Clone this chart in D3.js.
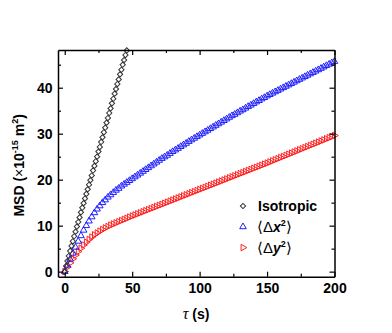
<!DOCTYPE html>
<html>
<head>
<meta charset="utf-8">
<script src="https://cdn.jsdelivr.net/npm/d3@7"></script>
<style>
  body { margin: 0; background: #fff; }
  svg { display: block; font-family: "Liberation Sans", Arial, sans-serif; }
</style>
</head>
<body>
<div id="msd_canvas"></div>
<script>
// lag times (s)
const tauIso = d3.range(0, 47, 1);
const tauAniso = d3.range(0, 201, 2);

// isotropic MSD, 1 s steps
const msdIso = [0, 1.2, 2.3, 3.4, 4.5, 5.6, 6.6, 7.7, 8.7, 9.8, 10.8, 11.8, 12.9, 13.9, 14.9, 15.9,
  16.9, 17.9, 18.9, 19.9, 20.9, 22.0, 23.0, 24.0, 25.0, 26.1, 27.1, 28.2, 29.2, 30.3, 31.3, 32.4,
  33.4, 34.5, 35.5, 36.6, 37.6, 38.7, 39.7, 40.8, 41.8, 42.9, 43.9, 45.0, 46.0, 47.1, 48.1];

// <dx^2>, 2 s steps
const msdX = [0, 1.4, 2.7, 4.0, 5.3, 6.6, 7.8, 9.0, 10.0, 11.0, 11.9, 12.8, 13.6, 14.3, 15.0, 15.6,
  16.2, 16.7, 17.2, 17.7, 18.1, 18.6, 19.0, 19.4, 19.8, 20.2, 20.6, 21.0, 21.4, 21.8, 22.2,
  22.6, 23.0, 23.4, 23.8, 24.2, 24.6, 24.95, 25.3, 25.7, 26.1, 26.45, 26.8, 27.2, 27.55, 27.9,
  28.3, 28.65, 29.0, 29.35, 29.7, 30.05, 30.4, 30.75, 31.1, 31.45, 31.8, 32.15, 32.5, 32.85, 33.2,
  33.55, 33.9, 34.2, 34.55, 34.9, 35.2, 35.55, 35.9, 36.2, 36.55, 36.9, 37.2, 37.55, 37.85, 38.2,
  38.5, 38.8, 39.1, 39.4, 39.7, 40.0, 40.3, 40.6, 40.9, 41.2, 41.5, 41.8, 42.1, 42.4, 42.7,
  43.0, 43.3, 43.6, 43.9, 44.2, 44.5, 44.8, 45.1, 45.4, 45.7];

// <dy^2>, 2 s steps
const msdY = [0, 1.0, 1.9, 2.8, 3.6, 4.4, 5.1, 5.8, 6.4, 7.0, 7.5, 8.0, 8.4, 8.8, 9.15, 9.5,
  9.8, 10.1, 10.35, 10.6, 10.85, 11.1, 11.35, 11.6, 11.85, 12.1, 12.33, 12.56, 12.79, 13.02, 13.25,
  13.48, 13.71, 13.94, 14.17, 14.4, 14.63, 14.86, 15.09, 15.32, 15.55, 15.78, 16.01, 16.24, 16.47, 16.7,
  16.93, 17.16, 17.39, 17.62, 17.85, 18.08, 18.31, 18.54, 18.77, 19.0, 19.23, 19.46, 19.69, 19.92, 20.15,
  20.38, 20.61, 20.84, 21.07, 21.3, 21.53, 21.76, 21.99, 22.22, 22.45, 22.68, 22.91, 23.14, 23.37, 23.6,
  23.84, 24.08, 24.32, 24.56, 24.8, 25.04, 25.28, 25.52, 25.76, 26.0, 26.24, 26.48, 26.72, 26.96, 27.2,
  27.44, 27.68, 27.92, 28.16, 28.4, 28.64, 28.88, 29.12, 29.36, 29.6];

const xMajor = [0, 50, 100, 150, 200];
const xMinor = [25, 75, 125, 175];
const yMajor = [0, 10, 20, 30, 40];
const yMinor = [5, 15, 25, 35, 45];

const width = 392, height = 333;
const margin = {top: 50, right: 57.5, bottom: 56.3, left: 58};

const svg = d3.select('#msd_canvas').append('svg')
  .attr('width', width).attr('height', height);

const xScale = d3.scaleLinear().domain([-5, 200]).range([margin.left, width - margin.right]);
const yScale = d3.scaleLinear().domain([-1.1, 48.2]).range([height - margin.bottom, margin.top]);

const plotG = svg.append('g');

const diamond = d3.symbol().type(d3.symbolSquare).size(14);
const triUp = d3.symbol().type(d3.symbolTriangle).size(19);

// red <dy^2>, right-pointing triangles
plotG.selectAll('.ptY').data(tauAniso).enter().append('path')
  .attr('class', 'ptY')
  .attr('d', triUp)
  .attr('transform', (d, i) => `translate(${xScale(d)},${yScale(msdY[i])}) rotate(90)`)
  .attr('fill', 'none').attr('stroke', '#ff2020').attr('stroke-width', 1);

// blue <dx^2>
plotG.selectAll('.ptX').data(tauAniso).enter().append('path')
  .attr('class', 'ptX')
  .attr('d', triUp)
  .attr('transform', (d, i) => `translate(${xScale(d)},${yScale(msdX[i])})`)
  .attr('fill', 'none').attr('stroke', '#2020ff').attr('stroke-width', 1);

// isotropic diamonds
plotG.selectAll('.ptI').data(tauIso).enter().append('path')
  .attr('class', 'ptI')
  .attr('d', diamond)
  .attr('transform', (d, i) => `translate(${xScale(d)},${yScale(msdIso[i])}) rotate(45)`)
  .attr('fill', 'none').attr('stroke', '#333').attr('stroke-width', 1);

// axes
function styleAxis(g) {
  g.select('.domain').attr('stroke', '#000').attr('stroke-width', 1.5);
  g.selectAll('.tick line').attr('stroke', '#000').attr('stroke-width', 1.2);
  g.selectAll('.tick text').attr('fill', '#000').attr('font-size', 14).attr('font-weight', 'bold')
    .attr('font-family', '"Liberation Sans", Arial, sans-serif');
}

const bottomY = height - margin.bottom;
const rightX = width - margin.right;

svg.append('g').attr('transform', `translate(0,${bottomY})`)
  .call(d3.axisBottom(xScale).tickValues(xMinor).tickSize(-3).tickFormat(''))
  .call(g => g.select('.domain').remove()).call(styleAxis);
svg.append('g').attr('transform', `translate(0,${margin.top})`)
  .call(d3.axisTop(xScale).tickValues(xMinor).tickSize(-3).tickFormat(''))
  .call(g => g.select('.domain').remove()).call(styleAxis);
svg.append('g').attr('transform', `translate(${margin.left},0)`)
  .call(d3.axisLeft(yScale).tickValues(yMinor).tickSize(-3).tickFormat(''))
  .call(g => g.select('.domain').remove()).call(styleAxis);
svg.append('g').attr('transform', `translate(${rightX},0)`)
  .call(d3.axisRight(yScale).tickValues(yMinor).tickSize(-3).tickFormat(''))
  .call(g => g.select('.domain').remove()).call(styleAxis);

svg.append('g').attr('transform', `translate(0,${bottomY})`)
  .call(d3.axisBottom(xScale).tickValues(xMajor).tickSize(-5).tickSizeOuter(0).tickPadding(6.5))
  .call(styleAxis);
svg.append('g').attr('transform', `translate(0,${margin.top})`)
  .call(d3.axisTop(xScale).tickValues(xMajor).tickSize(-5).tickSizeOuter(0).tickFormat(''))
  .call(styleAxis);
svg.append('g').attr('transform', `translate(${margin.left},0)`)
  .call(d3.axisLeft(yScale).tickValues(yMajor).tickSize(-5).tickSizeOuter(0).tickPadding(5.5))
  .call(styleAxis);
svg.append('g').attr('transform', `translate(${rightX},0)`)
  .call(d3.axisRight(yScale).tickValues(yMajor).tickSize(-5).tickSizeOuter(0).tickFormat(''))
  .call(styleAxis);

// axis titles
const yTitle = svg.append('text')
  .attr('transform', `translate(24,${(margin.top + bottomY) / 2 + 2}) rotate(-90)`)
  .attr('text-anchor', 'middle').attr('font-size', 14).attr('font-weight', 'bold').attr('fill', '#000');
yTitle.append('tspan').text('MSD (');
yTitle.append('tspan').attr('font-weight', 'normal').text('\u00d7');
yTitle.append('tspan').text('10');
yTitle.append('tspan').attr('font-size', 9).attr('dy', -6).text('-15');
yTitle.append('tspan').attr('dy', 6).text(' m');
yTitle.append('tspan').attr('font-size', 9).attr('dy', -6).text('2');
yTitle.append('tspan').attr('dy', 6).text(')');

const xTitle = svg.append('text')
  .attr('x', 196).attr('y', 319)
  .attr('text-anchor', 'middle').attr('font-size', 14).attr('font-weight', 'bold').attr('fill', '#000');
xTitle.append('tspan').attr('font-weight', 'normal').attr('font-style', 'italic')
  .attr('font-family', '"Liberation Serif", serif').attr('font-size', 16).text('\u03c4');
xTitle.append('tspan').text(' (s)');

// legend
const legend = svg.append('g').attr('transform', 'translate(243,206)');
const legendRows = [
  {sym: diamond, rot: 45, color: '#333'},
  {sym: triUp, rot: 0, color: '#2020ff'},
  {sym: triUp, rot: 90, color: '#ff2020'}
];
legend.selectAll('.lg').data(legendRows).enter().append('path')
  .attr('class', 'lg')
  .attr('d', d => d.sym())
  .attr('transform', (d, i) => `translate(0,${i * 20.8}) rotate(${d.rot})`)
  .attr('fill', 'none').attr('stroke', d => d.color).attr('stroke-width', 1);

legend.append('text').attr('x', 15).attr('y', 5)
  .attr('font-size', 14).attr('font-weight', 'bold').attr('fill', '#000').text('Isotropic');

['x', 'y'].forEach((v, i) => {
  const t = legend.append('text').attr('x', 14).attr('y', 5 + (i + 1) * 20.8)
    .attr('font-size', 14).attr('fill', '#000');
  t.append('tspan').attr('font-size', 15).text('\u27e8\u0394');
  t.append('tspan').attr('font-weight', 'bold').attr('font-style', 'italic').text(v);
  t.append('tspan').attr('font-weight', 'bold').attr('font-size', 9).attr('dy', -6).text('2');
  t.append('tspan').attr('font-size', 15).attr('dy', 6).text('\u27e9');
});
</script>
</body>
</html>
